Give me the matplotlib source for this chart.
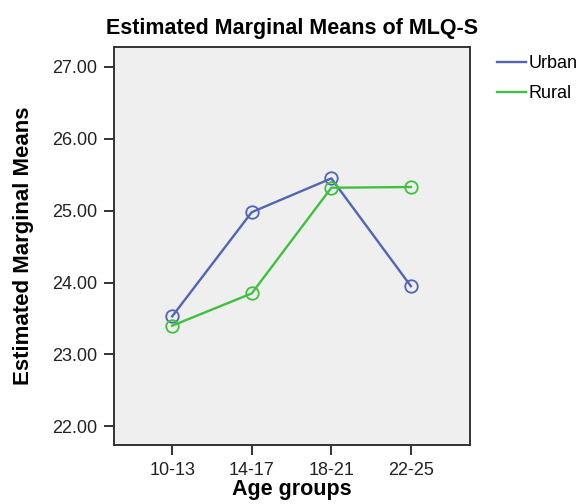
import matplotlib
matplotlib.use("Agg")
import matplotlib.pyplot as plt
from matplotlib.lines import Line2D

# data
age_groups = ['10-13', '14-17', '18-21', '22-25']
urban = [23.53, 24.98, 25.45, 23.95]
rural = [23.40, 23.85, 25.32, 25.33]
y_ticks = [22.0, 23.0, 24.0, 25.0, 26.0, 27.0]

blue = '#5264b4'
green = '#3fc13f'

plt.rcParams['font.family'] = ['Liberation Sans', 'DejaVu Sans']

fig = plt.figure(figsize=(5.88, 5.04), dpi=100)
ax = fig.add_axes([0.194, 0.117, 0.605, 0.790])
ax.set_facecolor('#efefef')

x = range(len(age_groups))
ax.plot(x, urban, color=blue, lw=1.7, marker='o', ms=9,
        mfc='none', mec=blue, mew=1.3)
ax.plot(x, rural, color=green, lw=1.7, marker='o', ms=9,
        mfc='none', mec=green, mew=1.3)

ax.set_xlim(-0.73, 3.74)
ax.set_ylim(21.74, 27.28)
ax.set_xticks(list(x))
ax.set_xticklabels(age_groups)
ax.set_yticks(y_ticks)
ax.set_yticklabels([f'{v:.2f}' for v in y_ticks])
ax.tick_params(direction='out', length=7, width=1.3, labelsize=13, pad=5,
               colors='#222222')

for s in ax.spines.values():
    s.set_linewidth(1.4)
    s.set_color('#333333')

ax.set_title('Estimated Marginal Means of MLQ-S', fontsize=15.5,
             fontweight='bold', pad=9)
ax.set_xlabel('Age groups', fontsize=15.5, fontweight='bold', labelpad=0)
ax.set_ylabel('Estimated Marginal Means', fontsize=16, fontweight='bold', labelpad=13)

handles = [Line2D([], [], color=blue, lw=1.7), Line2D([], [], color=green, lw=1.7)]
ax.legend(handles, ['Urban', 'Rural'], loc='upper left',
          bbox_to_anchor=(1.057, 0.997), frameon=False, borderaxespad=0,
          fontsize=13, handlelength=1.6, handletextpad=0.15, labelspacing=0.7)

fig.savefig('out.png', dpi=100, facecolor='white')
